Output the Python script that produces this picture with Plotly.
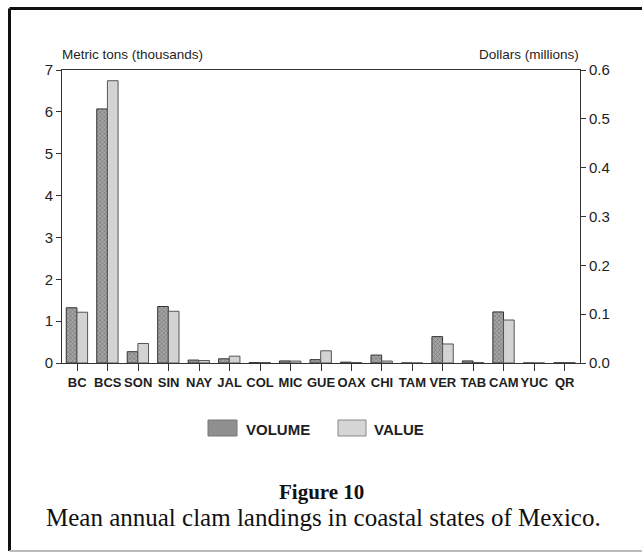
import plotly.graph_objects as go

# ---- data ----
states = ["BC", "BCS", "SON", "SIN", "NAY", "JAL", "COL", "MIC", "GUE",
          "OAX", "CHI", "TAM", "VER", "TAB", "CAM", "YUC", "QR"]
volume_kt = [1.32, 6.07, 0.27, 1.35, 0.07, 0.10, 0.01, 0.05, 0.08,
             0.02, 0.19, 0.0, 0.63, 0.05, 1.22, 0.0, 0.005]
value_musd = [0.104, 0.578, 0.040, 0.106, 0.005, 0.014, 0.001, 0.004, 0.025,
              0.001, 0.004, 0.0, 0.039, 0.001, 0.088, 0.0, 0.001]
left_ticks = [0, 1, 2, 3, 4, 5, 6, 7]
right_ticks = [0.0, 0.1, 0.2, 0.3, 0.4, 0.5, 0.6]

W, H = 642, 554
L, R, T, B = 62, 580, 70, 363  # plot area in pixels


def xp(px):
    return (px - L) / (R - L)


def yp(py):
    return (B - py) / (B - T)


SANS = "Liberation Sans, Arial, sans-serif"
SERIF = "Liberation Serif, Times New Roman, serif"
AX = "#333333"
TXT = "#1e1e1e"

fig = go.Figure()
fig.add_trace(go.Bar(
    x=states, y=volume_kt, name="VOLUME", yaxis="y",
    width=0.35, offset=-0.36,
    marker=dict(color="#8c8c8c",
                pattern=dict(shape="x", fgcolor="#3a3a3a", bgcolor="#a6a6a6",
                             size=3, solidity=0.35),
                line=dict(color="#333333", width=1)),
))
fig.add_trace(go.Bar(
    x=states, y=value_musd, name="VALUE", yaxis="y2",
    width=0.35, offset=-0.01,
    marker=dict(color="#d3d3d3", line=dict(color="#555555", width=1)),
))

fig.update_layout(
    width=W, height=H,
    margin=dict(l=L, r=W - R, t=T, b=H - B, pad=0),
    paper_bgcolor="white", plot_bgcolor="white",
    barmode="overlay", showlegend=False,
    font=dict(family=SANS, color=TXT),
    xaxis=dict(type="category", categoryorder="array", categoryarray=states,
               tickvals=states, tickangle=0,
               range=[-0.5, len(states) - 0.5],
               showline=True, linecolor=AX, linewidth=1, mirror=True,
               ticks="outside", ticklen=7, tickcolor=AX, tickwidth=1,
               showgrid=False, zeroline=False,
               tickfont=dict(family=SANS, size=13, color=TXT, weight="bold")),
    yaxis=dict(range=[0, 7], tickvals=left_ticks,
               showline=True, linecolor=AX, linewidth=1,
               ticks="outside", ticklen=5, tickcolor=AX,
               showgrid=False, zeroline=False,
               tickfont=dict(family=SANS, size=15, color=TXT)),
    yaxis2=dict(range=[0, 0.6], tickvals=right_ticks, tickformat=".1f",
                overlaying="y", side="right",
                showline=True, linecolor=AX, linewidth=1,
                ticks="outside", ticklen=5, tickcolor=AX,
                showgrid=False, zeroline=False,
                tickfont=dict(family=SANS, size=15, color=TXT)),
)

ann = []
ann.append(dict(text="Metric tons (thousands)", x=xp(60), y=yp(54),
                xanchor="left", yanchor="middle",
                font=dict(family=SANS, size=13.5, color=TXT)))
ann.append(dict(text="Dollars (millions)", x=xp(581), y=yp(54),
                xanchor="right", yanchor="middle",
                font=dict(family=SANS, size=13.5, color=TXT)))
# legend
ann.append(dict(text="<b>VOLUME</b>", x=xp(244), y=yp(429), xanchor="left",
                yanchor="middle", font=dict(family=SANS, size=15, color=TXT)))
ann.append(dict(text="<b>VALUE</b>", x=xp(372), y=yp(429), xanchor="left",
                yanchor="middle", font=dict(family=SANS, size=15, color=TXT)))
# caption
ann.append(dict(text="<b>Figure 10</b>", x=xp(321), y=yp(492), xanchor="center",
                yanchor="middle", font=dict(family=SERIF, size=21, color="#111111")))
ann.append(dict(text="Mean annual clam landings in coastal states of Mexico.",
                x=xp(323), y=yp(517), xanchor="center", yanchor="middle",
                font=dict(family=SERIF, size=25, color="#111111")))
for a in ann:
    a.update(xref="paper", yref="paper", showarrow=False)
fig.update_layout(annotations=ann)

shapes = [
    # legend swatches
    dict(type="rect", x0=xp(208), x1=xp(237), y0=yp(436), y1=yp(420),
         fillcolor="#8f8f8f", line=dict(color="#777777", width=1)),
    dict(type="rect", x0=xp(338), x1=xp(366), y0=yp(436), y1=yp(420),
         fillcolor="#d6d6d6", line=dict(color="#888888", width=1)),
    # frame
    dict(type="line", x0=xp(9.5), x1=xp(660), y0=yp(8.5), y1=yp(8.5),
         line=dict(color="#111111", width=3)),
    dict(type="line", x0=xp(9.5), x1=xp(9.5), y0=yp(8.5), y1=yp(551),
         line=dict(color="#111111", width=3)),
    dict(type="line", x0=xp(9.5), x1=xp(660), y0=yp(551), y1=yp(551),
         line=dict(color="#bbbbbb", width=2)),
]
for s in shapes:
    s.update(xref="paper", yref="paper", layer="above")
fig.update_layout(shapes=shapes)

fig.write_html("out.html",
               config={"displayModeBar": False},
               post_script="document.body.style.margin='0';"
                           "document.body.style.overflow='hidden';")
